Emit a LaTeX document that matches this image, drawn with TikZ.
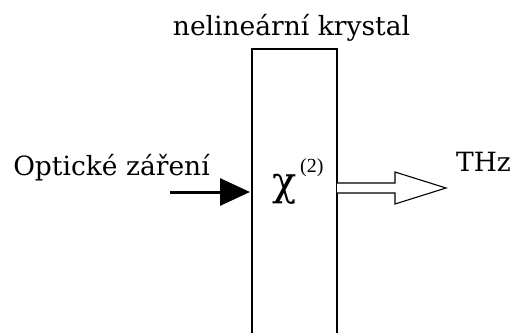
\documentclass[tikz,border=0pt]{standalone}
\usepackage{fontspec}
\setmainfont{DejaVu Serif}
\newfontfamily\chifont{DejaVu Serif}
\newfontfamily\supfont{Liberation Serif}
\usetikzlibrary{arrows.meta}
\begin{document}
\begin{tikzpicture}[x=1pt,y=-1pt,
  lbl/.style={font=\fontsize{26.5}{30}\selectfont, inner sep=0pt},
  boxline/.style={draw=black, line width=1.2pt}]
\useasboundingbox (0,0) rectangle (514,333);
\fill[white] (0,0) rectangle (514,333);
% crystal (open at bottom)
\coordinate (bl) at (252,333);
\coordinate (tl) at (252,49);
\coordinate (tr) at (337,49);
\coordinate (br) at (337,333);
\draw[boxline] (bl) -- (tl) -- (tr) -- (br);
\node[lbl, anchor=base] (top) at (291.5,35) {nelineární krystal};
\node[lbl, anchor=base] (opt) at (111.5,175) {Optické záření};
\node[lbl, anchor=base west] (thz) at (456,171) {THz};
\node[inner sep=0pt, anchor=base] (chi) at (285,195) {\chifont\fontsize{40}{44}\selectfont χ};
\node[inner sep=0pt, anchor=base west] (sup2) at (300,172) {\supfont\fontsize{20}{22}\selectfont (2)};
% input arrow
\coordinate (inS) at (170,192);
\coordinate (inE) at (250,192);
\draw[line width=3pt, -{Triangle[length=30pt,width=27pt]}] (inS) -- (inE);
% output hollow arrow
\coordinate (o1) at (337,183);
\draw[line width=1.1pt, fill=white, line join=miter]
  (o1) -- (395,183) -- (395,172) -- (446,188) -- (395,204) -- (395,193) -- (337,193);
\end{tikzpicture}
\end{document}
